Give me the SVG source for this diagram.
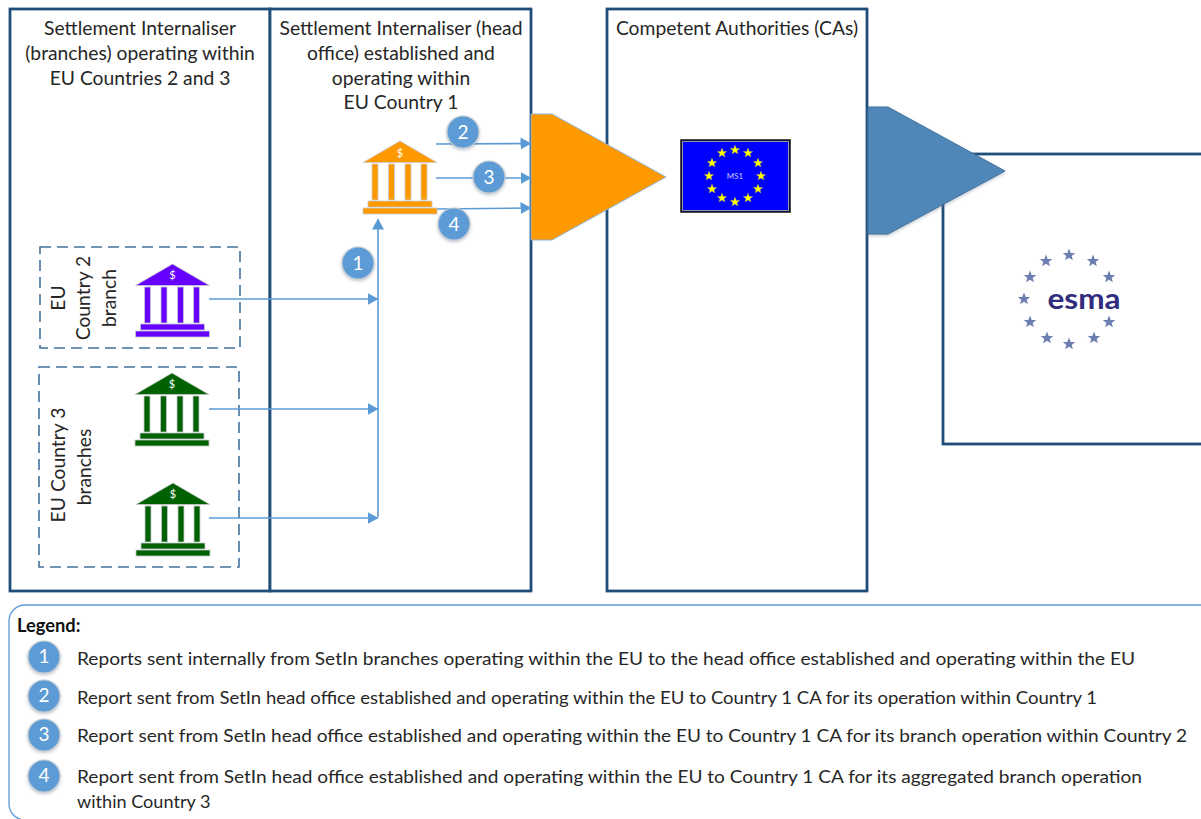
<svg xmlns="http://www.w3.org/2000/svg" xmlns:xlink="http://www.w3.org/1999/xlink" width="1201" height="819" viewBox="0 0 1201 819">
<style>
text{font-family:Lato,"Open Sans","Liberation Sans",sans-serif;fill:#262626}
.t{font-size:19.300px;text-anchor:middle}
.lg{font-size:18.100px}
.panel{fill:#fff;stroke:#1f4e79;stroke-width:2.800}
.dash{fill:none;stroke:#41719c;stroke-width:1.600;stroke-dasharray:11 6}
.c{fill:none;stroke:#5b9bd5;stroke-width:1.600}
.num{fill:#5b9bd5;stroke:#c4ccd4;stroke-width:1.200;filter:url(#sh)}
.n{font-size:19px;fill:#fff;text-anchor:middle}
.bank{stroke:#c5c9cf;stroke-width:.8}
.s{font-size:11px;fill:#fff;text-anchor:middle;stroke:none}
</style>
<defs>
<filter id="sh" x="-30%" y="-30%" width="160%" height="160%"><feDropShadow dx="0" dy="1.500" stdDeviation="1.500" flood-color="#6d7f91" flood-opacity=".45"/></filter>
<marker id="a" markerUnits="userSpaceOnUse" markerWidth="11" markerHeight="12" refX="10.500" refY="6" orient="auto"><path d="M0 0L11 6L0 12Z" fill="#5b9bd5"/></marker>
<g id="bk">
<path d="M0 0L37 21.500H-37Z"/>
<rect x="-28" y="23" width="6" height="36"/>
<rect x="-11.500" y="23" width="6" height="36"/>
<rect x="5" y="23" width="6" height="36"/>
<rect x="21" y="23" width="6" height="36"/>
<rect x="-32" y="60" width="64" height="6"/>
<rect x="-37" y="67" width="74" height="6"/>
</g>
<polygon id="st" points="0,-5 1.300,-1.600 4.800,-1.500 2,.7 3,4.100 0,2.100 -3,4.100 -2,.7 -4.800,-1.500 -1.300,-1.600"/>
<polygon id="se" points="0,-6.500 1.700,-2.100 6.200,-2 2.700,.9 3.900,5.300 0,2.800 -3.900,5.300 -2.700,.9 -6.200,-2 -1.700,-2.100"/>
</defs>
<rect width="1201" height="819" fill="#fff"/>

<g id="panel-branches"><rect class="panel" x="10" y="9" width="260" height="582"/>
<text class="t" x="140" y="35">Settlement Internaliser</text><text class="t" x="140" y="60">(branches) operating within</text><text class="t" x="140" y="85">EU Countries 2 and 3</text></g>
<g id="panel-head"><rect class="panel" x="270" y="9" width="261" height="582"/>
<text class="t" x="401" y="35">Settlement Internaliser (head</text><text class="t" x="401" y="60">office) established and</text><text class="t" x="401" y="85">operating within</text><text class="t" x="401" y="109">EU Country 1</text></g>
<g id="panel-ca"><rect class="panel" x="607" y="9" width="260" height="582"/>
<text class="t" x="737" y="35">Competent Authorities (CAs)</text></g>
<g id="panel-esma"><rect class="panel" x="943" y="154" width="270" height="290"/></g>

<g id="group-country2"><rect class="dash" x="40" y="247" width="200" height="101"/>
<text class="t" transform="translate(59 298) rotate(-90)" x="0" y="0" dy="6">EU</text>
<text class="t" transform="translate(84 298) rotate(-90)" x="0" y="0" dy="6">Country 2</text>
<text class="t" transform="translate(110 298) rotate(-90)" x="0" y="0" dy="6">branch</text></g>
<g id="group-country3"><rect class="dash" x="39" y="367" width="200" height="200"/>
<text class="t" transform="translate(59 465) rotate(-90)" x="0" y="0" dy="6">EU Country 3</text>
<text class="t" transform="translate(85 467) rotate(-90)" x="0" y="0" dy="6">branches</text></g>

<g id="arrow-orange"><polygon points="531,114 552,114 666,177 552,240 531,240" fill="#ff9900" stroke="#8db4d9" stroke-width="1"/></g>
<g id="arrow-blue"><polygon points="868,107 888,107 1005,171 888,234 868,234" fill="#4f87b9" stroke="#41719c" stroke-width="1" filter="url(#sh)"/></g>

<g id="connectors">
<path class="c" marker-end="url(#a)" d="M378 517V219"/>
<path class="c" marker-end="url(#a)" d="M209 299H378"/>
<path class="c" marker-end="url(#a)" d="M209 409H378"/>
<path class="c" marker-end="url(#a)" d="M209 518H378"/>
<path class="c" marker-end="url(#a)" d="M436 144L531 143.500"/>
<path class="c" marker-end="url(#a)" d="M436 178H531"/>
<path class="c" marker-end="url(#a)" d="M436 209L531 208"/>
</g>

<g id="bank-head" fill="#ff9900" class="bank"><use xlink:href="#bk" href="#bk" x="400" y="141"/><text class="s" x="400" y="157">$</text></g>
<g id="bank-country2" fill="#6600ff" class="bank"><use xlink:href="#bk" href="#bk" x="172.500" y="264"/><text class="s" x="172.500" y="279">$</text></g>
<g id="bank-country3a" fill="#006100" class="bank"><use xlink:href="#bk" href="#bk" x="172" y="373"/><text class="s" x="172" y="388">$</text></g>
<g id="bank-country3b" fill="#006100" class="bank"><use xlink:href="#bk" href="#bk" x="173" y="483"/><text class="s" x="173" y="498">$</text></g>

<g id="badge-1"><circle class="num" cx="358" cy="263" r="16"/><text class="n" x="358" y="269.500">1</text></g>
<g id="badge-2"><circle class="num" cx="463" cy="132" r="16"/><text class="n" x="463" y="138.500">2</text></g>
<g id="badge-3"><circle class="num" cx="489" cy="177" r="16"/><text class="n" x="489" y="183.500">3</text></g>
<g id="badge-4"><circle class="num" cx="454" cy="224" r="16"/><text class="n" x="454" y="230.500">4</text></g>

<g id="flag-ms1">
<rect x="681" y="140" width="109" height="72" fill="#0000ff" stroke="#111" stroke-width="1.500"/>
<rect x="682.500" y="141.500" width="106" height="69" fill="none" stroke="#999" stroke-width="1"/>
<g fill="#ffff00" stroke="#a8a860" stroke-width=".3">
<use xlink:href="#st" href="#st" x="735" y="150"/><use xlink:href="#st" href="#st" x="748" y="153"/><use xlink:href="#st" href="#st" x="758" y="163"/><use xlink:href="#st" href="#st" x="761" y="176"/><use xlink:href="#st" href="#st" x="758" y="189"/><use xlink:href="#st" href="#st" x="748" y="198"/><use xlink:href="#st" href="#st" x="735" y="202"/><use xlink:href="#st" href="#st" x="722" y="198"/><use xlink:href="#st" href="#st" x="712" y="189"/><use xlink:href="#st" href="#st" x="709" y="176"/><use xlink:href="#st" href="#st" x="712" y="163"/><use xlink:href="#st" href="#st" x="722" y="153"/>
</g>
<text x="735" y="179" font-size="8" text-anchor="middle" style="fill:#c9ccff">MS1</text>
</g>

<g id="esma-logo">
<g fill="#6d7fb0">
<use xlink:href="#se" href="#se" x="1069" y="255"/><use xlink:href="#se" href="#se" x="1093" y="261"/><use xlink:href="#se" href="#se" x="1109" y="277"/><use xlink:href="#se" href="#se" x="1024" y="299"/><use xlink:href="#se" href="#se" x="1109" y="322"/><use xlink:href="#se" href="#se" x="1094" y="338"/><use xlink:href="#se" href="#se" x="1069" y="344"/><use xlink:href="#se" href="#se" x="1047" y="338"/><use xlink:href="#se" href="#se" x="1030" y="322"/><use xlink:href="#se" href="#se" x="1030" y="277"/><use xlink:href="#se" href="#se" x="1046" y="261"/>
</g>
<text x="1084" y="309" font-size="29" font-weight="700" text-anchor="middle" textLength="73" lengthAdjust="spacingAndGlyphs" style="fill:#302d7c">esma</text>
</g>

<g id="legend">
<rect x="9" y="605" width="1210" height="215" rx="16" fill="#fff" stroke="#5b9bd5" stroke-width="1.300"/>
<text x="17" y="632" font-size="18.300" font-weight="700" style="fill:#111">Legend:</text>
<circle class="num" cx="44" cy="657" r="16"/><text class="n" x="44" y="663">1</text>
<circle class="num" cx="44" cy="696" r="16"/><text class="n" x="44" y="702">2</text>
<circle class="num" cx="44" cy="735" r="16"/><text class="n" x="44" y="741">3</text>
<circle class="num" cx="44" cy="776" r="16"/><text class="n" x="44" y="782">4</text>
<text class="lg" x="77" y="665" textLength="1058" lengthAdjust="spacingAndGlyphs">Reports sent internally from SetIn branches operating within the EU to the head office established and operating within the EU</text>
<text class="lg" x="77" y="704" textLength="1020" lengthAdjust="spacingAndGlyphs">Report sent from SetIn head office established and operating within the EU to Country 1 CA for its operation within Country 1</text>
<text class="lg" x="77" y="742" textLength="1110" lengthAdjust="spacingAndGlyphs">Report sent from SetIn head office established and operating within the EU to Country 1 CA for its branch operation within Country 2</text>
<text class="lg" x="77" y="783" textLength="1065" lengthAdjust="spacingAndGlyphs">Report sent from SetIn head office established and operating within the EU to Country 1 CA for its aggregated branch operation</text>
<text class="lg" x="77" y="808">within Country 3</text>
</g>
</svg>
